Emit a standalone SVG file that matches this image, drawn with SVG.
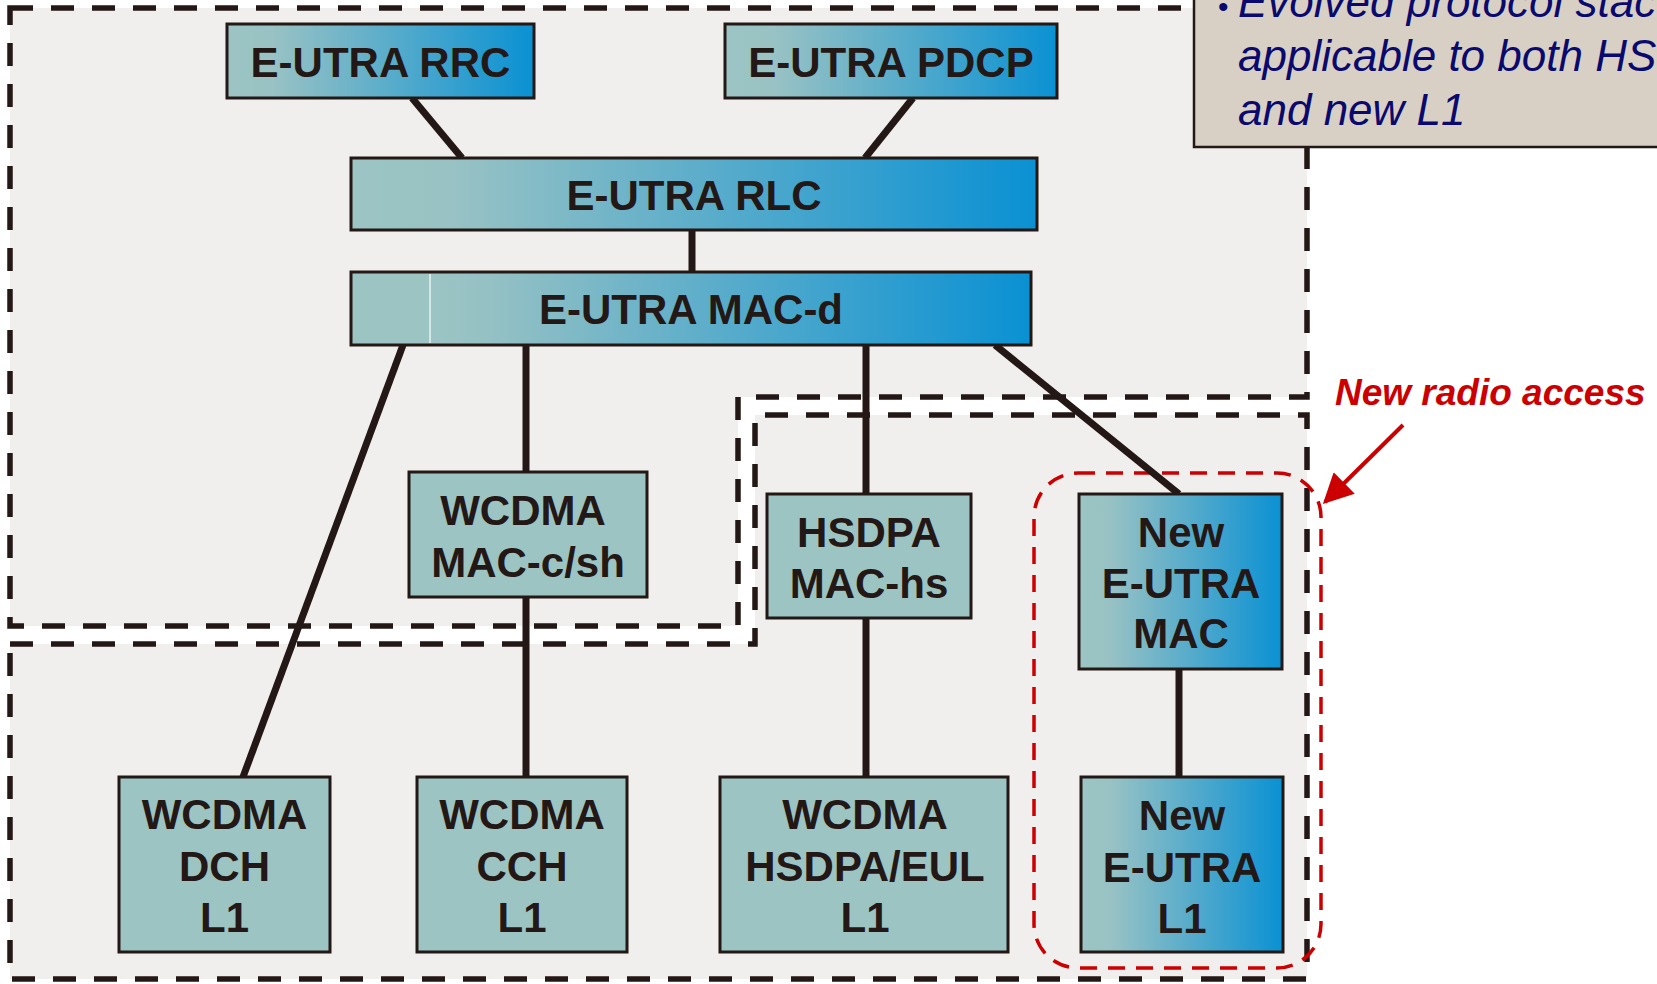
<svg xmlns="http://www.w3.org/2000/svg" width="1657" height="984" viewBox="0 0 1657 984">
<defs>
<linearGradient id="grad" x1="0" y1="0" x2="1" y2="0">
<stop offset="0" stop-color="#9CC4C3"/>
<stop offset="0.15" stop-color="#98C2C4"/>
<stop offset="1" stop-color="#0A91D3"/>
</linearGradient>
<linearGradient id="gradMac" x1="0" y1="0" x2="1" y2="0">
<stop offset="0" stop-color="#9CC4C3"/>
<stop offset="0.116" stop-color="#9CC4C3"/>
<stop offset="0.2" stop-color="#95C1C4"/>
<stop offset="1" stop-color="#0A91D3"/>
</linearGradient>
<marker id="redArrow" viewBox="0 0 10 10" refX="9" refY="5" markerWidth="8.5" markerHeight="7.5" markerUnits="strokeWidth" orient="auto">
<path d="M0,0 L10,5 L0,10 Z" fill="#CC0000"/>
</marker>
<style>
.region{fill:#F0EFED;stroke:#231815;stroke-width:5.5;stroke-dasharray:23 18;}
.grad{fill:url(#grad);stroke:#231815;stroke-width:3;}
.solid{fill:#9CC4C3;stroke:#231815;stroke-width:3;}
.conn{stroke:#231815;stroke-width:7;fill:none;}
.lbl{font-family:"Liberation Sans",Arial,sans-serif;font-weight:bold;font-size:42px;fill:#231815;text-anchor:middle;}
.note{font-family:"Liberation Sans",Arial,sans-serif;font-style:italic;font-size:44px;fill:#0A0A6E;}
</style>
</defs>
<rect x="0" y="0" width="1657" height="984" fill="#FFFFFF"/>

<g id="regions">
<path id="region-upper" class="region" d="M10,8 H1307 V397 H738 V626 H10 Z"/>
<path id="region-lower" class="region" d="M10,644 H755 V415 H1307 V979 H10 Z"/>
</g>

<g id="new-radio-access-boundary">
<rect x="1034" y="473" width="287" height="495" rx="44" ry="44" fill="none" stroke="#CC0000" stroke-width="3.5" stroke-dasharray="17 11"/>
</g>

<g id="connectors">
<line class="conn" x1="412" y1="98" x2="462" y2="158"/>
<line class="conn" x1="913" y1="98" x2="865" y2="158"/>
<line class="conn" x1="692" y1="230" x2="692" y2="272"/>
<line class="conn" x1="403" y1="345" x2="243" y2="777"/>
<line class="conn" x1="526" y1="345" x2="526" y2="472"/>
<line class="conn" x1="526" y1="597" x2="526" y2="777"/>
<line class="conn" x1="866" y1="345" x2="866" y2="494"/>
<line class="conn" x1="866" y1="618" x2="866" y2="777"/>
<line class="conn" x1="995" y1="345" x2="1179" y2="494"/>
<line class="conn" x1="1179" y1="669" x2="1179" y2="777"/>
</g>

<g id="node-rrc">
<rect class="grad" x="227" y="24" width="307" height="74"/>
<text class="lbl" x="380.5" y="77">E-UTRA RRC</text>
</g>
<g id="node-pdcp">
<rect class="grad" x="725" y="24" width="332" height="74"/>
<text class="lbl" x="891" y="77">E-UTRA PDCP</text>
</g>
<g id="node-rlc">
<rect class="grad" x="351" y="158" width="686" height="72"/>
<text class="lbl" x="694" y="210">E-UTRA RLC</text>
</g>
<g id="node-macd">
<rect x="351" y="272" width="680" height="73" fill="url(#gradMac)" stroke="#231815" stroke-width="3"/>
<line x1="430" y1="274" x2="430" y2="343" stroke="#FFFFFF" stroke-width="1.2"/>
<text class="lbl" x="691" y="324">E-UTRA MAC-d</text>
</g>
<g id="node-mac-csh">
<rect class="solid" x="409" y="472" width="238" height="125"/>
<text class="lbl" x="523" y="525">WCDMA</text>
<text class="lbl" x="528" y="577">MAC-c/sh</text>
</g>
<g id="node-mac-hs">
<rect class="solid" x="767" y="494" width="204" height="124"/>
<text class="lbl" x="869" y="547">HSDPA</text>
<text class="lbl" x="869" y="598">MAC-hs</text>
</g>
<g id="node-new-mac">
<rect class="grad" x="1079" y="494" width="203" height="175"/>
<text class="lbl" x="1181" y="547">New</text>
<text class="lbl" x="1181" y="598">E-UTRA</text>
<text class="lbl" x="1181" y="648">MAC</text>
</g>
<g id="node-dch-l1">
<rect class="solid" x="119" y="777" width="211" height="175"/>
<text class="lbl" x="224.5" y="829">WCDMA</text>
<text class="lbl" x="224.5" y="881">DCH</text>
<text class="lbl" x="224.5" y="932">L1</text>
</g>
<g id="node-cch-l1">
<rect class="solid" x="417" y="777" width="210" height="175"/>
<text class="lbl" x="522" y="829">WCDMA</text>
<text class="lbl" x="522" y="881">CCH</text>
<text class="lbl" x="522" y="932">L1</text>
</g>
<g id="node-hsdpa-l1">
<rect class="solid" x="720" y="777" width="288" height="175"/>
<text class="lbl" x="865" y="829">WCDMA</text>
<text class="lbl" x="865" y="881">HSDPA/EUL</text>
<text class="lbl" x="865" y="932">L1</text>
</g>
<g id="node-new-l1">
<rect class="grad" x="1081" y="777" width="202" height="175"/>
<text class="lbl" x="1182" y="830">New</text>
<text class="lbl" x="1182" y="882">E-UTRA</text>
<text class="lbl" x="1182" y="933">L1</text>
</g>

<g id="label-new-radio-access">
<text x="1335" y="405" font-family="'Liberation Sans',Arial,sans-serif" font-weight="bold" font-style="italic" font-size="37" fill="#CC0000">New radio access</text>
<line x1="1403" y1="425" x2="1325" y2="502" stroke="#CC0000" stroke-width="4" marker-end="url(#redArrow)"/>
</g>

<g id="note">
<rect x="1194" y="-10" width="480" height="157" fill="#D8D0C4" stroke="#231815" stroke-width="2.5"/>
<text class="note" x="1218" y="17"><tspan font-style="normal" font-size="30">•</tspan><tspan x="1238">Evolved protocol stac</tspan></text>
<text class="note" x="1238" y="71">applicable to both HS</text>
<text class="note" x="1238" y="125">and new L1</text>
</g>
</svg>
